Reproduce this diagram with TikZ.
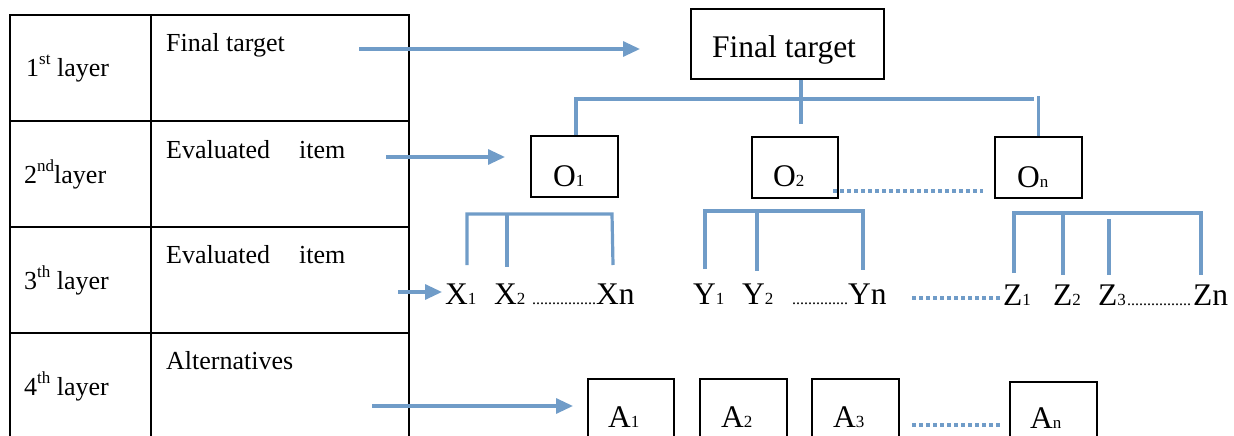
\documentclass[tikz,border=0pt]{standalone}
\usepackage{fontspec}
\setmainfont{Liberation Serif}
\usetikzlibrary{arrows.meta}
\definecolor{linkblue}{RGB}{112,156,200}
% font sizes (1pt = one unit of the drawing grid)
\newcommand\cellfont{\fontsize{26}{30}\selectfont}
\newcommand\bigfont{\fontsize{31.5}{36}\selectfont}
\newcommand\smallfont{\fontsize{17}{20}\selectfont}
\newcommand\dotfont{\fontsize{16}{18}\selectfont}
\newcommand\supx[1]{\raisebox{12pt}{\smallfont #1}}
\newcommand\subx[2]{{\bigfont #1}{\smallfont #2}}
\begin{document}
\begin{tikzpicture}[x=1pt,y=-1pt,
  rule/.style={line width=1.8pt,black},
  box/.style={draw,line width=1.6pt,inner sep=0pt},
  txt/.style={inner sep=0pt,anchor=base west},
  link/.style={line width=3.2pt,linkblue},
  arrowlink/.style={link,-{Triangle[length=17pt,width=15pt]}},
  dotlink/.style={link,line width=3.2pt,dash pattern=on 3.5pt off 3.5pt}]
\useasboundingbox (0,0) rectangle (1234,436);

% ---- layer table ----
\draw[rule] (10,440) -- (10,15) -- (409,15) -- (409,440);
\draw[rule] (151,15) -- (151,440);
\foreach \yy in {121,227,333} \draw[rule] (10,\yy) -- (409,\yy);

\node[txt] (l1) at (26,77) {\cellfont 1\supx{st} layer};
\node[txt] (l2) at (24,183) {\cellfont 2\supx{nd}layer};
\node[txt] (l3) at (24,289) {\cellfont 3\supx{th} layer};
\node[txt] (l4) at (24,395) {\cellfont 4\supx{th} layer};
\node[txt] (c1) at (166,52) {\cellfont Final target};
\node[txt] (c2) at (166,158) {\cellfont Evaluated\hspace{29pt}item};
\node[txt] (c3) at (166,263) {\cellfont Evaluated\hspace{29pt}item};
\node[txt] (c4) at (166,369) {\cellfont Alternatives};

% ---- boxes ----
\node[box,minimum width=193pt,minimum height=70pt] (goal) at (787.5,44) {};
\node[txt] (goaltxt) at (712,58) {\bigfont Final target};

\node[box,minimum width=87pt,minimum height=61pt] (o1) at (574.5,166.5) {};
\node[box,minimum width=86pt,minimum height=61pt] (o2) at (795,167.5) {};
\node[box,minimum width=87pt,minimum height=61pt] (on) at (1038.5,167.5) {};
\node[txt] (o1t) at (553,186) {\subx{O}{1}};
\node[txt] (o2t) at (773,186) {\subx{O}{2}};
\node[txt] (ont) at (1017,187) {\subx{O}{n}};

\node[box,minimum width=86pt,minimum height=62pt,anchor=north west] (a1) at (587,378) {};
\node[box,minimum width=87pt,minimum height=62pt,anchor=north west] (a2) at (699,378) {};
\node[box,minimum width=87pt,minimum height=62pt,anchor=north west] (a3) at (811,378) {};
\node[box,minimum width=87pt,minimum height=62pt,anchor=north west] (an) at (1009,381) {};
\node[txt] (a1t) at (608,427) {\subx{A}{1}};
\node[txt] (a2t) at (721,427) {\subx{A}{2}};
\node[txt] (a3t) at (833,427) {\subx{A}{3}};
\node[txt] (ant) at (1030,428) {\subx{A}{n}};

% ---- third-layer items ----
\node[txt] (x1) at (445,304) {\subx{X}{1}};
\node[txt] (x2) at (494,304) {\subx{X}{2}};
\node[txt] (xd) at (532,304) {\dotfont ................};
\node[txt] (xn) at (596,304) {\bigfont Xn};
\node[txt] (y1) at (693,304) {\subx{Y}{1}};
\node[txt] (y2) at (742,304) {\subx{Y}{2}};
\node[txt] (yd) at (792,304) {\dotfont ..............};
\node[txt] (yn) at (848,304) {\bigfont Yn};
\node[txt] (z1) at (1003,305) {\subx{Z}{1}};
\node[txt] (z2) at (1053,305) {\subx{Z}{2}};
\node[txt] (z3) at (1098,305) {\subx{Z}{3}};
\node[txt] (zd) at (1127,305) {\dotfont ................};
\node[txt] (zn) at (1193,305) {\bigfont Zn};

% ---- arrows from the table ----
\coordinate (s1) at (359,49);  \coordinate (e1) at (640,49);
\coordinate (s2) at (386,157); \coordinate (e2) at (505,157);
\coordinate (s3) at (398,292); \coordinate (e3) at (442,292);
\coordinate (s4) at (372,406); \coordinate (e4) at (573,406);
\draw[arrowlink] (s1) -- (e1);
\draw[arrowlink] (s2) -- (e2);
\draw[arrowlink] (s3) -- (e3);
\draw[arrowlink] (s4) -- (e4);

% ---- tree below the final target ----
\coordinate (stub) at (801,124);
\coordinate (barL) at (576,99);
\coordinate (barR) at (1034,99);
\draw[link] (goal.south -| stub) -- (stub);
\draw[link] (o1.north -| barL) -- (barL) -- (barR);
\draw[link] (on.north) -- ++(0,-40);

% ---- brackets over the third-layer items ----
\coordinate (xb1) at (467,265); \coordinate (xb2) at (507,267); \coordinate (xb3) at (613,265);
\draw[link] (xb1) |- (612,214) -- (xb3);
\draw[link] (507,214) -- (xb2);
\coordinate (yb1) at (705,269); \coordinate (yb2) at (757,271); \coordinate (yb3) at (863,270);
\draw[link] (yb1) |- (863,211) -- (yb3);
\draw[link] (757,211) -- (yb2);
\coordinate (zb1) at (1014,273); \coordinate (zb2) at (1063,275);
\coordinate (zb3) at (1109,275); \coordinate (zb4) at (1201,275);
\draw[link] (zb1) |- (1201,213) -- (zb4);
\draw[link] (1063,213) -- (zb2);
\draw[link] (1109,219) -- (zb3);

% ---- dotted continuations ----
\coordinate (d1s) at (833,191); \coordinate (d1e) at (983,191);
\coordinate (d2s) at (912,298); \coordinate (d2e) at (1002,298);
\coordinate (d3s) at (912,425); \coordinate (d3e) at (1002,425);
\draw[dotlink] (d1s) -- (d1e);
\draw[dotlink] (d2s) -- (d2e);
\draw[dotlink] (d3s) -- (d3e);
\end{tikzpicture}
\end{document}
